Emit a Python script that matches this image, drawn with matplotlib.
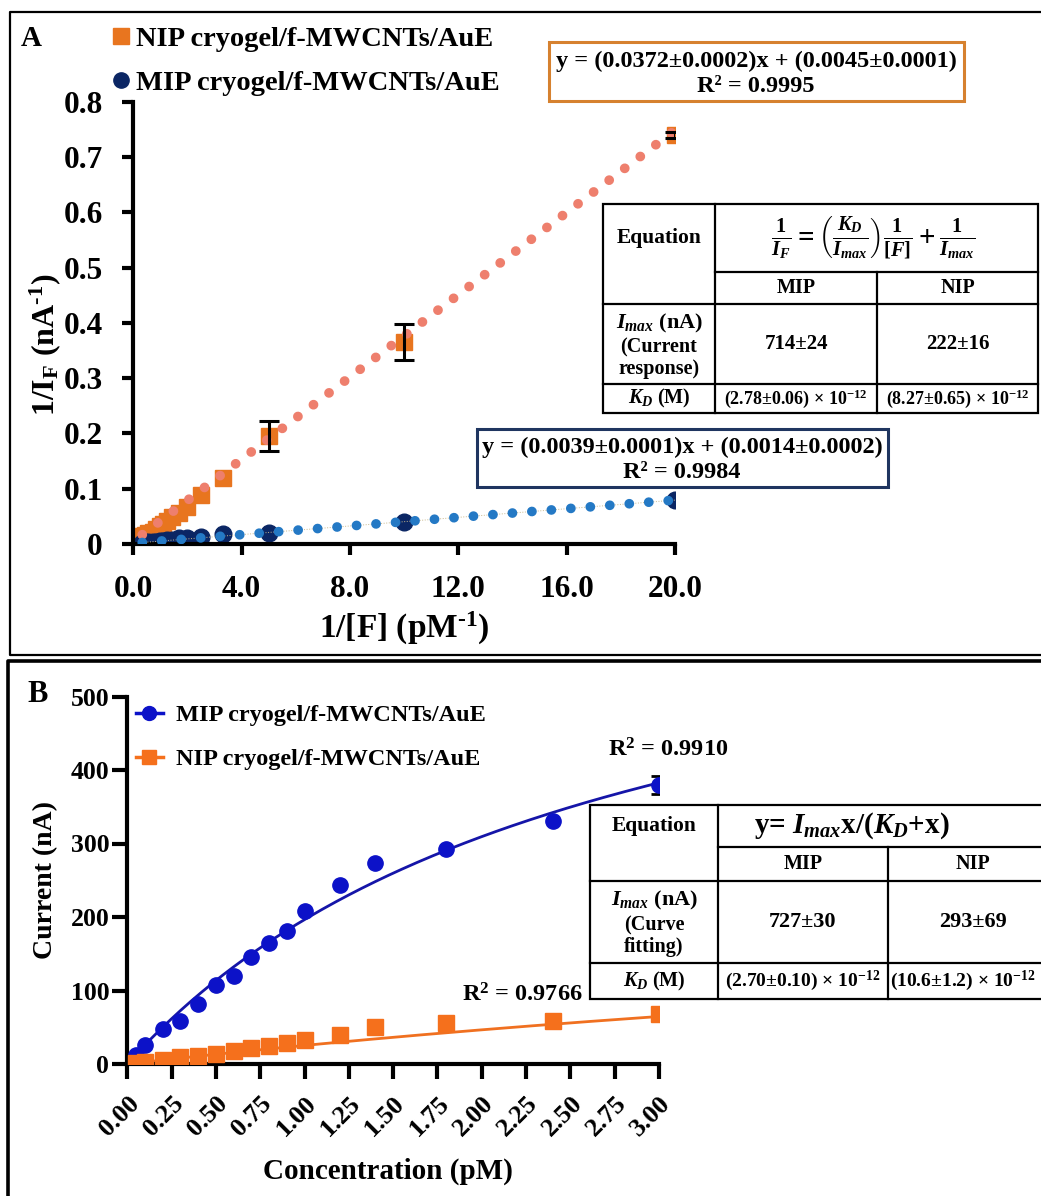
import numpy as np
import matplotlib
matplotlib.use('Agg')
import matplotlib.pyplot as plt
from matplotlib.lines import Line2D
from matplotlib.patches import Rectangle

plt.rcParams['font.family'] = ['Liberation Serif', 'DejaVu Serif']
plt.rcParams['font.weight'] = 'bold'
plt.rcParams['mathtext.fontset'] = 'custom'
plt.rcParams['mathtext.rm'] = 'Liberation Serif:bold'
plt.rcParams['mathtext.it'] = 'Liberation Serif:italic:bold'
plt.rcParams['mathtext.bf'] = 'Liberation Serif:bold'

# ---- Panel A data (double reciprocal plot) ----
inv_conc = [20, 10, 5, 3.33, 2.5, 2.0, 1.67, 1.43, 1.25, 1.11, 1.0, 0.83, 0.71, 0.56, 0.42, 0.33]
nip_inv_current = [0.740, 0.365, 0.196, 0.119, 0.089, 0.067, 0.056, 0.048, 0.042, 0.036,
                   0.033, 0.027, 0.022, 0.019, 0.017, 0.015]
nip_inv_err = [0.006, 0.033, 0.027, 0, 0, 0, 0, 0, 0, 0, 0, 0, 0, 0, 0, 0]
mip_inv_current = [0.080, 0.039, 0.020, 0.018, 0.012, 0.011, 0.010, 0.008, 0.007, 0.006,
                   0.005, 0.0045, 0.004, 0.0035, 0.003, 0.0027]
nip_slope, nip_icpt = 0.0372, 0.0045
mip_slope, mip_icpt = 0.0039, 0.0014

# ---- Panel B data (saturation curves) ----
conc_pM = [0.05, 0.1, 0.2, 0.3, 0.4, 0.5, 0.6, 0.7, 0.8, 0.9, 1.0, 1.2, 1.4, 1.8, 2.4, 3.0]
mip_current = [12, 26, 47, 59, 82, 107, 120, 146, 164, 181, 208, 243, 273, 293, 331, 380]
mip_err = [0, 0, 0, 0, 0, 0, 0, 0, 0, 0, 0, 0, 0, 0, 0, 12]
nip_current = [1, 3, 5, 9, 11, 14, 18, 22, 24, 29, 32, 39, 51, 56, 58, 68]
mip_imax, mip_kd = 727, 2.70
nip_imax, nip_kd = 293, 10.6

W, H = 1041, 1196
fig = plt.figure(figsize=(W / 100, H / 100), dpi=100)


def fbox(left, top, right, bottom):
    # pixel box -> figure fraction rect
    return [left / W, 1 - bottom / H, (right - left) / W, (bottom - top) / H]


def nonzero(xs, ys, es):
    keep = [i for i, e in enumerate(es) if e > 0]
    return [xs[i] for i in keep], [ys[i] for i in keep], [es[i] for i in keep]


# ================= Panel A =================
ax_a = fig.add_axes(fbox(133.3, 101.7, 675, 544))
ex, ey, ee = nonzero(inv_conc, nip_inv_current, nip_inv_err)
ax_a.errorbar(ex, ey, yerr=ee, fmt='none', ecolor='black',
              elinewidth=2.2, capsize=7, capthick=2.2, zorder=4)
ax_a.plot(inv_conc, nip_inv_current, 's', color='#E8751F', ms=11.5, mec='#E8751F', zorder=2)
ax_a.plot(inv_conc, mip_inv_current, 'o', color='#0B2664', ms=12, mec='#0B2664', zorder=2)

xa = np.array([min(inv_conc), max(inv_conc)])
ax_a.plot(xa, nip_slope * xa + nip_icpt, color='#EE7F6D', lw=7,
          linestyle=(0, (0.01, 2.0)), dash_capstyle='round', zorder=3)
ax_a.plot(xa, mip_slope * xa + mip_icpt, color='#C9B98E', lw=0.7, ls=':', zorder=3)
ax_a.plot(xa, mip_slope * xa + mip_icpt, color='#2479C5', lw=7,
          linestyle=(0, (0.01, 2.0)), dash_capstyle='round', zorder=3)

ax_a.set_xlim(0, 20)
ax_a.set_ylim(0, 0.8)
ax_a.set_xticks([0, 4, 8, 12, 16, 20])
ax_a.set_xticklabels(['0.0', '4.0', '8.0', '12.0', '16.0', '20.0'])
ax_a.set_yticks(np.arange(0, 0.81, 0.1))
ax_a.set_yticklabels(['0', '0.1', '0.2', '0.3', '0.4', '0.5', '0.6', '0.7', '0.8'])
for s in ['top', 'right']:
    ax_a.spines[s].set_visible(False)
for s in ['left', 'bottom']:
    ax_a.spines[s].set_linewidth(3)
ax_a.tick_params(width=3, length=8, labelsize=22.5, pad=14)
ax_a.set_xlabel(r'1/[F] (pM$^{\text{-1}}$)', fontsize=24, fontweight='bold')
ax_a.set_ylabel(r'1/I$_{\mathrm{F}}$ (nA$^{\text{-1}}$)', fontsize=23, fontweight='bold')
ax_a.xaxis.set_label_coords(0.5, -0.15)
ax_a.yaxis.set_label_coords(-0.13, 0.45)

ax_a.legend(
    [Line2D([], [], ls='none', marker='s', color='#E8751F', ms=11),
     Line2D([], [], ls='none', marker='o', color='#0B2664', ms=11)],
    ['NIP cryogel/f-MWCNTs/AuE', 'MIP cryogel/f-MWCNTs/AuE'],
    loc='upper left', bbox_to_anchor=(112 / W, 1 - 26 / H), bbox_transform=fig.transFigure,
    frameon=False, fontsize=20.5, handlelength=0.6, handletextpad=0.25, labelspacing=0.62,
    borderpad=0, borderaxespad=0)

# ================= Panel B =================
ax_b = fig.add_axes(fbox(127.3, 696.5, 659, 1064))
xb = np.linspace(min(conc_pM), max(conc_pM), 200)
ax_b.plot(xb, mip_imax * xb / (mip_kd + xb), color='#1515A8', lw=2, zorder=2)
ax_b.plot(xb, nip_imax * xb / (nip_kd + xb), color='#F07020', lw=2, zorder=2)
ex, ey, ee = nonzero(conc_pM, mip_current, mip_err)
ax_b.errorbar(ex, ey, yerr=ee, fmt='none', ecolor='black',
              elinewidth=2, capsize=6, capthick=2, zorder=3)
ax_b.plot(conc_pM, mip_current, 'o', color='#0C12C8', ms=11, zorder=4)
ax_b.plot(conc_pM, nip_current, 's', color='#F5701C', ms=11, zorder=4)
ax_b.set_xlim(0, 3)
ax_b.set_ylim(0, 500)
ax_b.set_xticks(np.arange(0, 3.01, 0.25))
ax_b.set_xticklabels(['%.2f' % v for v in np.arange(0, 3.01, 0.25)], rotation=45,
                     ha='right', rotation_mode='anchor')
ax_b.set_yticks(np.arange(0, 501, 100))
for s in ['top', 'right']:
    ax_b.spines[s].set_visible(False)
for s in ['left', 'bottom']:
    ax_b.spines[s].set_linewidth(3)
ax_b.tick_params(width=3, length=11, labelsize=18.5, pad=2)
ax_b.tick_params(axis='x', labelsize=19, pad=9)
ax_b.set_xlabel('Concentration (pM)', fontsize=21, fontweight='bold')
ax_b.set_ylabel('Current (nA)', fontsize=20, fontweight='bold')
ax_b.xaxis.set_label_coords(0.49, -0.255)
ax_b.yaxis.set_label_coords(-0.13, 0.5)
ax_b.text(3.05, 428, 'R$^2$ = 0.9910', fontsize=17.5, ha='center', va='center', clip_on=False)
ax_b.text(2.23, 94, 'R$^2$ = 0.9766', fontsize=17.5, ha='center', va='center', clip_on=False)

ax_b.legend(
    [Line2D([], [], color='#0C12C8', marker='o', ms=10, lw=2.5),
     Line2D([], [], color='#F5701C', marker='s', ms=10, lw=2.5)],
    ['MIP cryogel/f-MWCNTs/AuE', 'NIP cryogel/f-MWCNTs/AuE'],
    loc='upper left', bbox_to_anchor=(136 / W, 1 - 704 / H), bbox_transform=fig.transFigure,
    frameon=False, fontsize=17.5, handlelength=1.1, handletextpad=0.55, labelspacing=0.92,
    borderpad=0, borderaxespad=0)

# ================= overlay: frames, boxes, tables =================
ov = fig.add_axes([0, 0, 1, 1], zorder=10)
ov.set_xlim(0, W)
ov.set_ylim(H, 0)
ov.axis('off')
ov.patch.set_alpha(0)

ov.plot([1060, 10, 10, 1060], [12, 12, 655, 655], color='black', lw=1.6)
ov.plot([1060, 8, 8], [661, 661, 1210], color='black', lw=2.6)
ov.text(21, 38, 'A', fontsize=21, va='center')
ov.text(27, 695, 'B', fontsize=22, va='center')

# regression boxes
ov.add_patch(Rectangle((549, 42), 415, 59, fill=False, ec='#D6812F', lw=2.2))
ov.text(756, 61, 'y = (0.0372±0.0002)x + (0.0045±0.0001)', fontsize=17.5, ha='center', va='center')
ov.text(756, 86, 'R² = 0.9995', fontsize=17.5, ha='center', va='center')
ov.add_patch(Rectangle((477, 429), 411, 58, fill=False, ec='#1F3560', lw=2.2))
ov.text(682, 447, 'y = (0.0039±0.0001)x + (0.0014±0.0002)', fontsize=17.5, ha='center', va='center')
ov.text(682, 472, 'R² = 0.9984', fontsize=17.5, ha='center', va='center')


def draw_table(x0, x1, x2, x3, y0, y1, y2, y3, y4, eq, eq_x, eq_size, imax_note, vals, kds,
               kd_size, val_size, c2_kd):
    ov.add_patch(Rectangle((x0, y0), x3 - x0, y4 - y0, fc='white', ec='black', lw=1.6))
    ov.plot([x1, x1], [y0, y4], color='black', lw=1.6)
    ov.plot([x2, x2], [y1, y4], color='black', lw=1.6)
    ov.plot([x1, x3], [y1, y1], color='black', lw=1.6)
    ov.plot([x0, x3], [y2, y2], color='black', lw=1.6)
    ov.plot([x0, x3], [y3, y3], color='black', lw=1.6)
    c0, c1, c2 = (x0 + x1) / 2, (x1 + x2) / 2, (x2 + x3) / 2
    ov.text(c0, (y0 + y1) / 2, 'Equation', fontsize=15.5, ha='center', va='center')
    ov.text(eq_x, (y0 + y1) / 2, eq, fontsize=eq_size, ha='center', va='center')
    ov.text(c1, (y1 + y2) / 2, 'MIP', fontsize=14.5, ha='center', va='center')
    ov.text(c2, (y1 + y2) / 2, 'NIP', fontsize=14.5, ha='center', va='center')
    hh = y3 - y2
    ov.text(c0, y2 + hh * 0.24, r'$I_{max}$' + ' (nA)', fontsize=16, ha='center', va='center')
    ov.text(c0, y2 + hh * 0.54, '(' + imax_note[0], fontsize=14.5, ha='center', va='center')
    ov.text(c0, y2 + hh * 0.81, imax_note[1] + ')', fontsize=14.5, ha='center', va='center')
    ov.text(c1, (y2 + y3) / 2, vals[0], fontsize=val_size, ha='center', va='center')
    ov.text(c2, (y2 + y3) / 2, vals[1], fontsize=val_size, ha='center', va='center')
    ov.text(c0, (y3 + y4) / 2, r'$K_D$ (M)', fontsize=14.5, ha='center', va='center')
    ov.text(c1, (y3 + y4) / 2, kds[0], fontsize=kd_size, ha='center', va='center')
    ov.text(c2_kd, (y3 + y4) / 2, kds[1], fontsize=kd_size, ha='center', va='center')


draw_table(603, 715, 877, 1038, 204, 272, 304, 384, 413,
           r'$\frac{1}{I_F} = \left(\frac{K_D}{I_{max}}\right)\frac{1}{[F]} + \frac{1}{I_{max}}$',
           873, 21, ['Current', 'response'], ['714±24', '222±16'],
           [r'(2.78±0.06) × 10$^{-12}$', r'(8.27±0.65) × 10$^{-12}$'], 13, 15, 957.5)
draw_table(590, 718, 888, 1058, 805, 847, 881, 963, 999,
           r'y= $I_{max}$x/($K_D$+x)', 852, 21, ['Curve', 'fitting'], ['727±30', '293±69'],
           [r'(2.70±0.10) × 10$^{-12}$', r'(10.6±1.2) × 10$^{-12}$'], 14, 16, 963)

fig.savefig('out.png', dpi=100)
